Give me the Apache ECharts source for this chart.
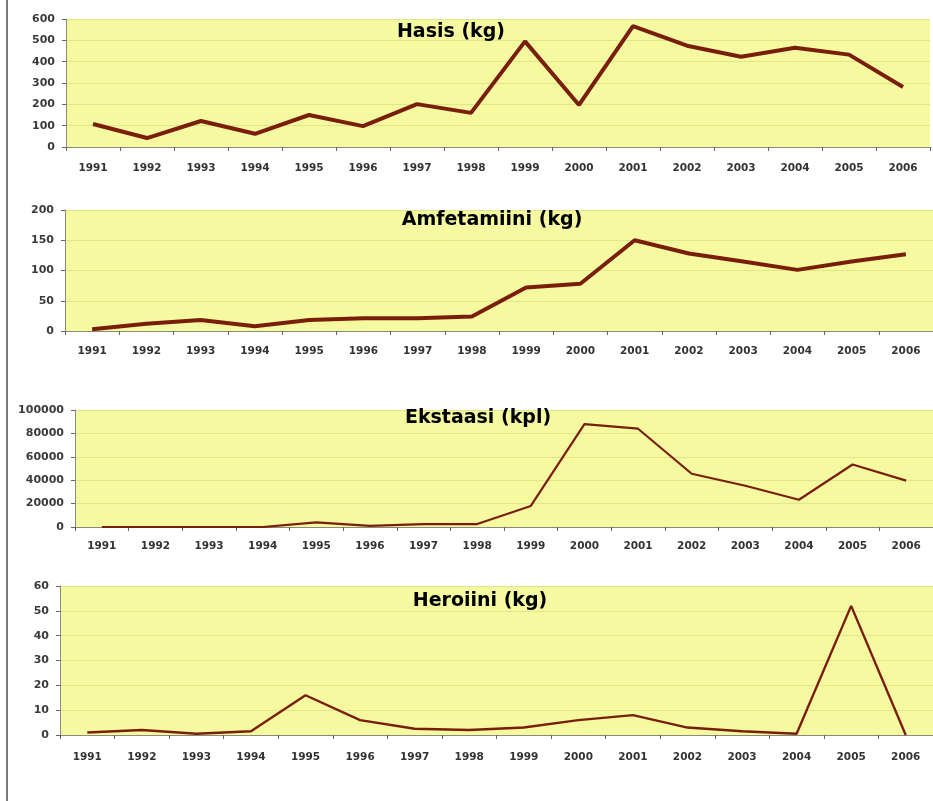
<!DOCTYPE html>
<html>
<head>
<meta charset="utf-8">
<script src="https://cdn.jsdelivr.net/npm/echarts@6/dist/echarts.min.js"></script>
<style>
  html, body { margin: 0; padding: 0; background: #fff; }
  #main { width: 933px; height: 801px; }
</style>
</head>
<body>
<div id="main"></div>
<script>
// vuodet (x-akseli)
var years = ['1991','1992','1993','1994','1995','1996','1997','1998','1999','2000','2001','2002','2003','2004','2005','2006'];

// takavarikot
var hasis = [108, 42, 122, 62, 150, 98, 201, 160, 495, 197, 567, 475, 423, 465, 433, 281];
var amfetamiini = [3, 12, 18, 8, 18, 21, 21, 24, 72, 78, 150, 128, 115, 101, 115, 127];
var ekstaasi = [0, 0, 0, 0, 4000, 1000, 2500, 2500, 18000, 88000, 84000, 45500, 35300, 23300, 53400, 39600];
var heroiini = [1, 2, 0.5, 1.5, 16, 6, 2.5, 2, 3, 6, 8, 3, 1.5, 0.5, 52, 0];

var titles = ['Hasis (kg)', 'Amfetamiini (kg)', 'Ekstaasi (kpl)', 'Heroiini (kg)'];
var yMax = [600, 200, 100000, 60];
var yStep = [100, 50, 20000, 10];

// paneelien sijainnit
var grids = [
  {left: 66, right: 3, top: 19, height: 128},
  {left: 65, right: 0, top: 210, height: 121},
  {left: 75, right: -5, top: 410, height: 117},
  {left: 60, right: 0, top: 586, height: 149}
];
var titlePos = [[451, 32], [492, 220], [478, 418], [480, 601]];
var lineW = [4, 4, 2.2, 2.4];
var labelMargin = [16, 15, 14, 17];
var seriesData = [hasis, amfetamiini, ekstaasi, heroiini];

var chart = echarts.init(document.getElementById('main'));

var xAxes = [], yAxes = [], series = [], graphics = [];
for (var i = 0; i < 4; i++) {
  grids[i].show = true;
  grids[i].backgroundColor = '#f5f99f';
  grids[i].borderWidth = 0;
  xAxes.push({
    type: 'category',
    gridIndex: i,
    data: years,
    boundaryGap: true,
    axisLine: {lineStyle: {color: '#8a8a7a', width: 1}},
    axisTick: {show: true, length: 4, inside: false, lineStyle: {color: '#666'}},
    axisLabel: {color: '#333', fontSize: 10.5, fontWeight: 'bold', fontFamily: 'DejaVu Sans', margin: labelMargin[i], interval: 0}
  });
  yAxes.push({
    type: 'value',
    gridIndex: i,
    min: 0,
    max: yMax[i],
    interval: yStep[i],
    axisLine: {show: true, lineStyle: {color: '#8a8a7a', width: 1}},
    axisTick: {show: true, length: 4, lineStyle: {color: '#666'}},
    splitLine: {show: true, lineStyle: {color: '#e0e78a', width: 1}},
    axisLabel: {
      color: '#3a3a3a', fontSize: 11, fontWeight: 'bold', fontFamily: 'DejaVu Sans', margin: 11,
      formatter: function (v) { return String(v); }
    }
  });
  series.push({
    type: 'line',
    xAxisIndex: i,
    yAxisIndex: i,
    data: seriesData[i],
    symbol: 'none',
    lineStyle: {color: '#7a1e0c', width: lineW[i]},
    z: 3
  });
  graphics.push({
    type: 'text',
    x: titlePos[i][0],
    y: titlePos[i][1],
    style: {
      text: titles[i],
      fill: '#000',
      font: 'bold 19px "DejaVu Sans"',
      textAlign: 'center',
      textVerticalAlign: 'middle'
    },
    z: 10
  });
}

// vasen reunaviiva
graphics.push({
  type: 'rect',
  shape: {x: 6, y: 0, width: 2, height: 801},
  style: {fill: '#7a7a7a'}
});

chart.setOption({
  animation: false,
  grid: grids,
  xAxis: xAxes,
  yAxis: yAxes,
  series: series,
  graphic: graphics
});
</script>
</body>
</html>
